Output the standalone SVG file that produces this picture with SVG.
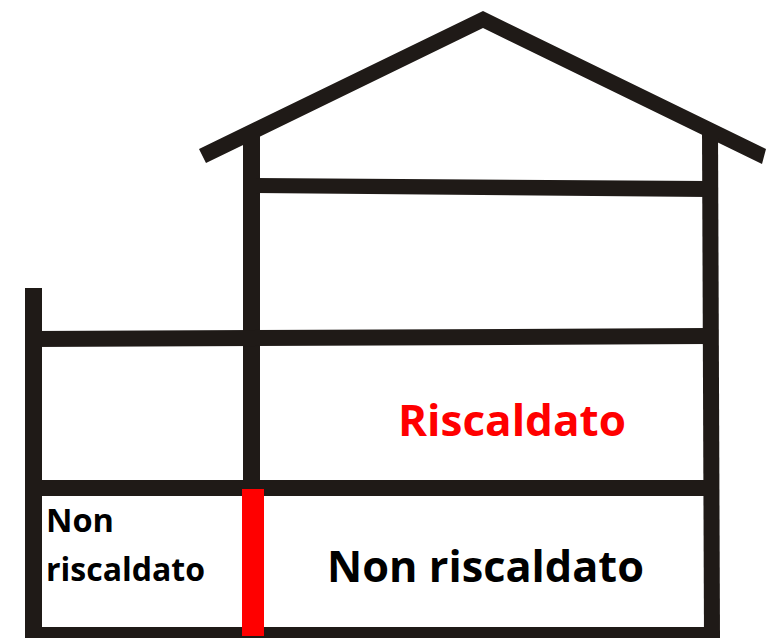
<svg xmlns="http://www.w3.org/2000/svg" width="769" height="638" viewBox="0 0 769 638">
<style>
.w{fill:#1f1a17;stroke:none}
.t{font-family:"Open Sans","Noto Sans",sans-serif;font-weight:700}
</style>
<rect width="769" height="638" fill="#fff"/>
<g id="house">
<polygon class="w" points="199,149 483,11 766,149 762,164 483,28 206,163"/>
<polygon class="w" points="243,134 260,134 260,490 243,490"/>
<polygon class="w" points="702,130 718,130 720,638 704,638"/>
<polygon class="w" points="255,178 708,181 708,197 255,193"/>
<polygon class="w" points="33,331 708,328 708,344 33,347"/>
<rect class="w" x="26" y="480" width="684" height="16"/>
<rect class="w" x="25" y="288" width="17" height="350"/>
<rect class="w" x="26" y="627" width="684" height="11"/>
</g>
<rect id="red-wall" x="242" y="489" width="22" height="147" fill="#ff0000"/>
<text class="t" x="398" y="436" font-size="43" fill="#ff0000" textLength="228" lengthAdjust="spacingAndGlyphs">Riscaldato</text>
<text class="t" x="327" y="582" font-size="43" fill="#000" textLength="317" lengthAdjust="spacingAndGlyphs">Non riscaldato</text>
<text class="t" x="46" y="532" font-size="32" fill="#000" textLength="68" lengthAdjust="spacingAndGlyphs">Non</text>
<text class="t" x="46" y="581" font-size="32" fill="#000" textLength="159" lengthAdjust="spacingAndGlyphs">riscaldato</text>
</svg>
